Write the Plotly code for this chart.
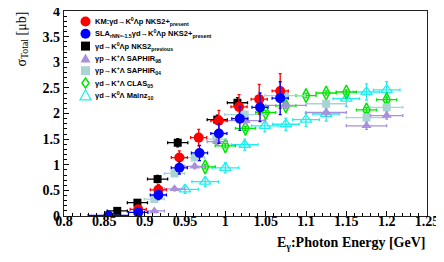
import plotly.graph_objects as go

# ---------------- data ----------------
km_E = [0.892, 0.917, 0.943, 0.967, 0.992, 1.017, 1.042, 1.068]
km_s = [0.13, 0.51, 1.14, 1.53, 1.86, 2.13, 2.28, 2.44]
km_ex = [0.01, 0.01, 0.01, 0.01, 0.01, 0.01, 0.01, 0.01]
km_ey = [0.06, 0.10, 0.13, 0.16, 0.20, 0.24, 0.29, 0.34]

sla_E = [0.855, 0.892, 0.917, 0.943, 0.968, 0.992, 1.018, 1.043, 1.068]
sla_s = [0.01, 0.07, 0.41, 0.94, 1.23, 1.61, 1.90, 2.12, 2.30]
sla_ex = [0.025, 0.012, 0.01, 0.01, 0.01, 0.01, 0.01, 0.01, 0.01]
sla_ey = [0.03, 0.05, 0.09, 0.12, 0.15, 0.19, 0.23, 0.28, 0.32]

prev_E = [0.866, 0.891, 0.916, 0.941, 0.990, 1.015]
prev_s = [0.10, 0.26, 0.72, 1.43, 1.88, 2.21]
prev_ex = [0.0125, 0.0125, 0.0125, 0.0125, 0.0125, 0.0125]
prev_ey = [0.04, 0.06, 0.07, 0.08, 0.09, 0.10]

s98_E = [0.912, 0.937, 0.962, 0.990, 1.025, 1.075, 1.125, 1.175, 1.200]
s98_s = [0.10, 0.53, 0.97, 1.45, 1.86, 2.16, 2.02, 1.76, 1.96]
s98_ex = [0.0125, 0.0125, 0.0125, 0.0125, 0.025, 0.025, 0.025, 0.025, 0.02]
s98_ey = [0.03, 0.04, 0.05, 0.06, 0.06, 0.07, 0.07, 0.07, 0.07]

s04_E = [0.912, 0.937, 0.962, 0.989, 1.024, 1.074, 1.125, 1.175, 1.200]
s04_s = [0.33, 0.83, 1.14, 1.50, 1.98, 2.35, 2.19, 1.92, 2.12]
s04_ex = [0.0125, 0.0125, 0.0125, 0.0125, 0.025, 0.025, 0.025, 0.025, 0.02]
s04_ey = [0.03, 0.04, 0.05, 0.05, 0.06, 0.06, 0.06, 0.06, 0.06]

clas_E = [0.975, 1.000, 1.025, 1.050, 1.075, 1.100, 1.125, 1.150, 1.175, 1.200]
clas_s = [0.96, 1.37, 1.71, 2.02, 2.15, 2.35, 2.40, 2.42, 2.07, 2.27]
clas_ex = [0.0125] * 10
clas_ey = [0.04, 0.04, 0.04, 0.04, 0.04, 0.04, 0.04, 0.04, 0.05, 0.05]

mainz_E = [0.950, 0.975, 1.000, 1.024, 1.049, 1.075, 1.100, 1.125, 1.150, 1.175, 1.200]
mainz_s = [0.52, 0.67, 0.94, 1.39, 1.76, 1.79, 1.88, 1.99, 2.29, 2.42, 2.46]
mainz_ex = [0.0165] * 11
mainz_ey = [0.08, 0.09, 0.10, 0.11, 0.12, 0.12, 0.13, 0.14, 0.15, 0.16, 0.16]

x_tickvals = [0.8, 0.85, 0.9, 0.95, 1.0, 1.05, 1.1, 1.15, 1.2, 1.25]
x_ticktext = ["0.8", "0.85", "0.9", "0.95", "1", "1.05", "1.1", "1.15", "1.2", "1.25"]
y_tickvals = [0, 0.5, 1, 1.5, 2, 2.5, 3, 3.5, 4]
y_ticktext = ["0", "0.5", "1", "1.5", "2", "2.5", "3", "3.5", "4"]

legend_labels = [
    "KM:γd→K<sup>0</sup>Λp NKS2+<sub>present</sub>",
    "SLA<sub>rNN=-1.5</sub>γd→K<sup>0</sup>Λp NKS2+<sub>present</sub>",
    "γd→K<sup>0</sup>Λp NKS2<sub>previous</sub>",
    "γp→K<sup>+</sup>Λ SAPHIR<sub>98</sub>",
    "γp→K<sup>+</sup>Λ SAPHIR<sub>04</sub>",
    "γd→K<sup>+</sup>Λ CLAS<sub>05</sub>",
    "γd→K<sup>0</sup>Λ Mainz<sub>10</sub>",
]

# ---------------- styles ----------------
C_RED = "#ff0000"
C_BLUE = "#0000ff"
C_BLACK = "#000000"
C_PURPLE = "#a98fdc"
C_TEAL = "#a9d4d4"
C_GREEN = "#00e600"
C_CYAN = "#22eeee"

fig = go.Figure()


def add(E, s, ex, ey, color, symbol, size, lw=0, fill=None):
    fig.add_trace(go.Scatter(
        x=E, y=s, mode="markers",
        marker=dict(symbol=symbol, size=size, color=fill if fill else color,
                    line=dict(color=color, width=lw)),
        error_x=dict(type="data", array=ex, color=color, thickness=1.3, width=1.5),
        error_y=dict(type="data", array=ey, color=color, thickness=1.3, width=1.5),
        showlegend=False, hoverinfo="skip",
    ))


add(mainz_E, mainz_s, mainz_ex, mainz_ey, C_CYAN, "triangle-up-open", 10, lw=1.3)
add(clas_E, clas_s, clas_ex, clas_ey, C_GREEN, "diamond-tall-open", 10, lw=1.5)
add(s04_E, s04_s, s04_ex, s04_ey, C_TEAL, "square", 8)
add(s98_E, s98_s, s98_ex, s98_ey, C_PURPLE, "triangle-up", 9)
add(prev_E, prev_s, prev_ex, prev_ey, C_BLACK, "square", 8)
add(km_E, km_s, km_ex, km_ey, C_RED, "circle", 10)
add(sla_E, sla_s, sla_ex, sla_ey, C_BLUE, "circle", 10)

# ---------------- layout geometry ----------------
# the page body adds an 8 px margin, so the figure is 8 px smaller and shifted
OFF = 8
W, H = 444 - OFF, 262 - OFF
L, R, T, B = 64 - OFF, 17, 11 - OFF, 46
PW, PH = W - L - R, H - T - B
X0, Y0 = 64, 11  # plot-area origin in window pixels


def px(xpix):
    return (xpix - X0) / PW


def py(ypix):
    return (Y0 + PH - ypix) / PH


serif_tick = dict(family="Liberation Serif", size=14, color="black")


def bold(lst):
    return ["<b>" + t + "</b>" for t in lst]


fig.update_layout(
    template="none",
    width=W, height=H,
    margin=dict(l=L, r=R, t=T, b=B, autoexpand=False),
    paper_bgcolor="white", plot_bgcolor="white",
    xaxis=dict(range=[0.8, 1.25], tickmode="array", tickvals=x_tickvals, ticktext=bold(x_ticktext),
               ticks="inside", ticklen=5, tickwidth=1, tickcolor="black", ticklabelstandoff=-8,
               ticklabeloverflow="allow",
               minor=dict(tickmode="linear", tick0=0.8, dtick=0.01, ticks="inside",
                          ticklen=3, tickwidth=1, tickcolor="black", showgrid=False),
               showline=True, linecolor="#222", linewidth=1.2, mirror=True, automargin=False,
               showgrid=False, zeroline=False, tickfont=serif_tick, fixedrange=True),
    yaxis=dict(range=[0, 4], tickmode="array", tickvals=y_tickvals, ticktext=bold(y_ticktext),
               ticks="inside", ticklen=5, tickwidth=1, tickcolor="black",
               ticklabeloverflow="allow",
               minor=dict(tickmode="linear", tick0=0, dtick=0.1, ticks="inside",
                          ticklen=3, tickwidth=1, tickcolor="black", showgrid=False),
               showline=True, linecolor="#222", linewidth=1.2, mirror=True, automargin=False,
               showgrid=False, zeroline=False, tickfont=serif_tick, fixedrange=True),
    showlegend=False,
)

# axis titles
fig.add_annotation(xref="paper", yref="paper", x=px(22), y=py(10), xanchor="center", yanchor="top",
                   text="σ<sub>Total</sub> [μb]", textangle=-90, showarrow=False,
                   font=dict(family="Liberation Serif", size=14, color="black"))
fig.add_annotation(xref="paper", yref="paper", x=1.0, y=py(243), xanchor="right", yanchor="middle",
                   text="<b>E<sub>γ</sub>:Photon Energy [GeV]</b>", showarrow=False,
                   font=dict(family="Liberation Serif", size=14, color="black"))

# legend (manual)
rows = [21.5, 33.8, 46.1, 58.4, 70.7, 83.0, 95.3]
mx = 85.5
shapes = []


def pshape(kind, row, path=None, r=5, fill=None, line=None, lw=0):
    d = dict(xref="paper", yref="paper", xsizemode="pixel", ysizemode="pixel",
             xanchor=px(mx), yanchor=py(row),
             fillcolor=fill if fill else "rgba(0,0,0,0)",
             line=dict(color=line if line else (fill or "black"), width=lw))
    if kind == "path":
        d.update(type="path", path=path)
    else:
        d.update(type=kind, x0=-r, x1=r, y0=-r, y1=r)
    shapes.append(d)


pshape("circle", rows[0], r=5, fill=C_RED)
pshape("circle", rows[1], r=5, fill=C_BLUE)
pshape("rect", rows[2], r=4.5, fill=C_BLACK)
pshape("path", rows[3], path="M-5,-4 L5,-4 L0,5 Z", fill=C_PURPLE)
pshape("rect", rows[4], r=4.5, fill=C_TEAL)
pshape("path", rows[5], path="M0,-5 L3.5,0 L0,5 L-3.5,0 Z", line=C_GREEN, lw=1.5)
pshape("path", rows[6], path="M-5.5,-4.5 L5.5,-4.5 L0,5.5 Z", line=C_CYAN, lw=1.3)
fig.update_layout(shapes=shapes)

for row, lab in zip(rows, legend_labels):
    fig.add_annotation(xref="paper", yref="paper", x=px(93), y=py(row), xanchor="left", yanchor="middle",
                       text="<b>" + lab + "</b>", showarrow=False,
                       font=dict(family="Liberation Sans", size=7.5, color="black"))

fig.write_html("out.html")
